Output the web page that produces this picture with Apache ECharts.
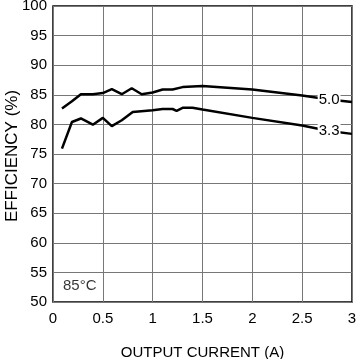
<!DOCTYPE html>
<html><head><meta charset="utf-8">
<script src="https://cdn.jsdelivr.net/npm/echarts@6/dist/echarts.min.js"></script>
<style>html,body{margin:0;padding:0;background:#fff}#c{width:357px;height:359px}</style>
</head><body><div id="c"></div>
<script>
var xTicks = [0, 0.5, 1, 1.5, 2, 2.5, 3];
var yTicks = [50, 55, 60, 65, 70, 75, 80, 85, 90, 95, 100];
var x50 = [0.09, 0.19, 0.28, 0.4, 0.5, 0.59, 0.69, 0.79, 0.89, 1.0, 1.1, 1.2, 1.3, 1.5, 2.0, 2.5, 2.77, 3.0];
var y50 = [82.7, 83.9, 85.1, 85.1, 85.3, 85.95, 85.1, 86.1, 85.1, 85.4, 85.9, 85.9, 86.3, 86.5, 85.9, 84.9, 84.2, 83.8];
var x33 = [0.09, 0.19, 0.28, 0.4, 0.5, 0.59, 0.69, 0.8, 1.0, 1.1, 1.2, 1.24, 1.3, 1.4, 1.5, 2.0, 2.5, 2.77, 3.0];
var y33 = [75.9, 80.4, 81.0, 79.95, 81.1, 79.7, 80.7, 82.1, 82.4, 82.6, 82.6, 82.3, 82.8, 82.8, 82.5, 81.1, 79.8, 78.9, 78.4];
var label50 = '5.0', label33 = '3.3', labelX = 2.77;
var tempText = '85°C';
var tempPos = [0.1, 52.7];
var yName = 'EFFICIENCY (%)';

var font = 'Liberation Sans';
function pts(xs, ys) { return xs.map(function (x, i) { return [x, ys[i]]; }); }
function labelMark(xs, ys, name) {
  var i = xs.indexOf(labelX);
  return {
    symbol: 'circle', symbolSize: 1, itemStyle: { color: 'rgba(0,0,0,0)' },
    label: { show: true, position: 'inside', formatter: name, color: '#000',
      backgroundColor: '#fff', padding: [0, 1], fontSize: 15, fontFamily: font },
    data: [{ coord: [xs[i], ys[i]] }]
  };
}
var chart = echarts.init(document.getElementById('c'));
chart.setOption({
  animation: false,
  grid: { left: 53, right: 5, top: 6, bottom: 57, show: true, borderColor: '#000', borderWidth: 1.5,
    outerBoundsMode: 'none', containLabel: false },
  xAxis: {
    type: 'value', min: 0, max: 3, interval: 0.5,
    axisLine: { show: false }, axisTick: { show: false },
    splitLine: { lineStyle: { color: '#777', width: 1 } },
    axisLabel: { color: '#000', fontSize: 15, fontFamily: font, margin: 9,
      formatter: function (v) { return String(v); } },
    name: 'OUTPUT CURRENT (A)', nameLocation: 'middle', nameGap: 43,
    nameTextStyle: { color: '#000', fontSize: 15, fontFamily: font }
  },
  yAxis: {
    type: 'value', min: 50, max: 100, interval: 5,
    axisLine: { show: false }, axisTick: { show: false },
    splitLine: { lineStyle: { color: '#777', width: 1 } },
    axisLabel: { color: '#000', fontSize: 15, fontFamily: font, margin: 6 }
  },
  graphic: [{
    type: 'text', x: 12, y: 156, rotation: Math.PI / 2,
    style: { text: yName, fill: '#000', font: '17px Liberation Sans', align: 'center', verticalAlign: 'middle' }
  }],
  series: [
    { type: 'line', name: label50, data: pts(x50, y50), symbol: 'none',
      lineStyle: { color: '#000', width: 2.5 }, z: 3, markPoint: labelMark(x50, y50, label50) },
    { type: 'line', name: label33, data: pts(x33, y33), symbol: 'none',
      lineStyle: { color: '#000', width: 2.5 }, z: 3, markPoint: labelMark(x33, y33, label33) },
    { type: 'scatter', data: [tempPos], symbolSize: 0, silent: true,
      label: { show: true, position: 'right', distance: 0, formatter: tempText, color: '#000',
        fontSize: 15, fontFamily: font } }
  ]
});
</script></body></html>
